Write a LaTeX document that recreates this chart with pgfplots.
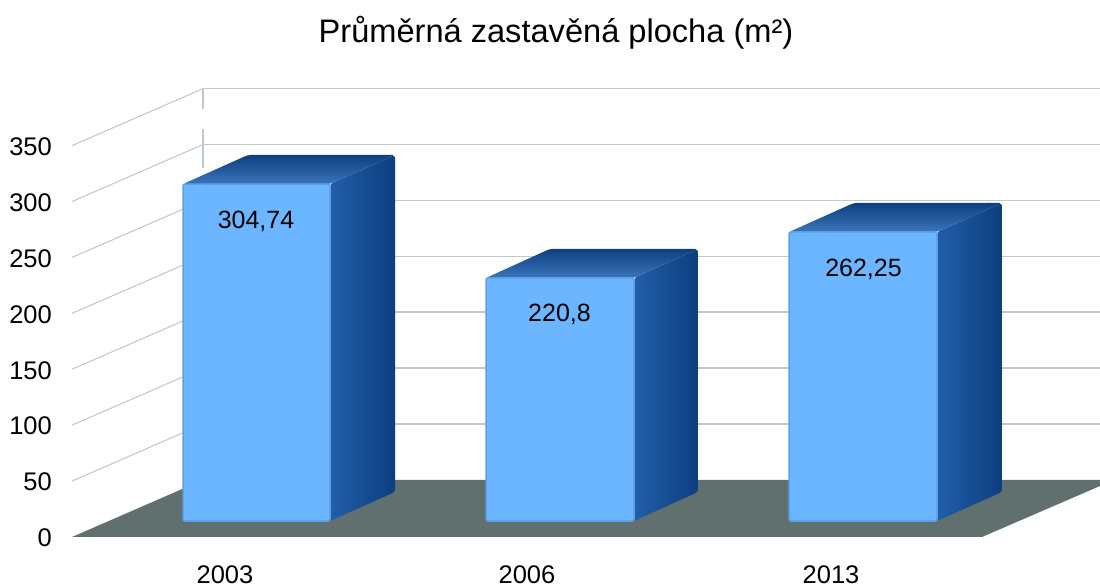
\documentclass[border=0pt]{standalone}
\usepackage{fontspec}
\setmainfont{Liberation Sans}
\usepackage{pgfplots}
\pgfplotsset{compat=1.18}

\definecolor{floorc}{HTML}{5F706F}
\definecolor{gridc}{HTML}{BCCACA}
\definecolor{diagc}{HTML}{BFC5C4}
\definecolor{frontc}{HTML}{6CB5FF}
\definecolor{frontedge}{HTML}{5C9FE6}
\definecolor{topback}{HTML}{0E3F80}
\definecolor{topfront}{HTML}{3A76BA}
\definecolor{sidel}{HTML}{225FA8}
\definecolor{sider}{HTML}{0C3E80}

\begin{document}
\begin{tikzpicture}[x=1pt,y=1pt]
\useasboundingbox (0,0) rectangle (1100,588);
\begin{axis}[
    at={(72pt,51pt)}, anchor=south west,
    scale only axis,
    width=1028pt, height=537pt,
    xmin=72, xmax=1100,
    ymin=0, ymax=480.3,
    clip=false,
    axis line style={draw=none},
    major tick length=0pt,
    xtick={225,527,831},
    xticklabels={2003,2006,2013},
    ytick={0,50,100,150,200,250,300,350},
    /pgf/number format/assume math mode=true,
    tick label style={font=\fontsize{25.5}{28}\selectfont, inner sep=0pt},
    yticklabel style={anchor=east, xshift=-20pt, yshift=-1pt},
    xticklabel style={anchor=north, yshift=-28.5pt},
]
% floor
\addplot[fill=floorc, draw=none] coordinates {(72,0) (982,0) (1100,45.6) (1100,51) (203,51)} -- cycle;

% diagonal side-wall lines
\addplot[diagc, line width=1pt, unbounded coords=jump] coordinates {
    (72,50) (203,101) (nan,nan)
    (72,100) (203,151) (nan,nan)
    (72,150) (203,201) (nan,nan)
    (72,200) (203,251) (nan,nan)
    (72,250) (203,301) (nan,nan)
    (72,300) (203,351) (nan,nan)
    (72,350) (203,401)
};
% back wall lines
\addplot[gridc, line width=1.6pt, unbounded coords=jump] coordinates {
    (203,101) (1100,101) (nan,nan)
    (203,151) (1100,151) (nan,nan)
    (203,201) (1100,201) (nan,nan)
    (203,251) (1100,251) (nan,nan)
    (203,301) (1100,301) (nan,nan)
    (203,351) (1100,351) (nan,nan)
    (203,401) (1100,401)
};
% corner post, broken as in the original
\addplot[gridc, line width=1.6pt, unbounded coords=jump] coordinates {
    (203,401) (203,383) (nan,nan)
    (203,365) (203,330)
};

% bar 2003
\addplot[left color=sidel, right color=sider, draw=none, rounded corners=3pt] coordinates {(330,14.3) (395,40.3) (395,341.7) (330,315.7)} -- cycle;
\addplot[top color=topback, bottom color=topfront, draw=none, rounded corners=3pt] coordinates {(183,315.7) (330,315.7) (395,341.7) (248,341.7)} -- cycle;
\addplot[fill=frontc, draw=frontedge, line width=1.5pt, rounded corners=2pt] coordinates {(183,14.3) (330,14.3) (330,315.7) (183,315.7)} -- cycle;

% bar 2006
\addplot[left color=sidel, right color=sider, draw=none, rounded corners=3pt] coordinates {(634,14.3) (698,40.3) (698,257.7) (634,231.7)} -- cycle;
\addplot[top color=topback, bottom color=topfront, draw=none, rounded corners=3pt] coordinates {(486,231.7) (634,231.7) (698,257.7) (550,257.7)} -- cycle;
\addplot[fill=frontc, draw=frontedge, line width=1.5pt, rounded corners=2pt] coordinates {(486,14.3) (634,14.3) (634,231.7) (486,231.7)} -- cycle;

% bar 2013
\addplot[left color=sidel, right color=sider, draw=none, rounded corners=3pt] coordinates {(937,14.3) (1002,40.3) (1002,298.8) (937,272.8)} -- cycle;
\addplot[top color=topback, bottom color=topfront, draw=none, rounded corners=3pt] coordinates {(789,272.8) (937,272.8) (1002,298.8) (854,298.8)} -- cycle;
\addplot[fill=frontc, draw=frontedge, line width=1.5pt, rounded corners=2pt] coordinates {(789,14.3) (937,14.3) (937,272.8) (789,272.8)} -- cycle;

% value labels
\node[font=\fontsize{25}{28}\selectfont] at (axis cs:256,282.6) {304,74};
\node[font=\fontsize{25}{28}\selectfont] at (axis cs:559.5,199.5) {220,8};
\node[font=\fontsize{25}{28}\selectfont] at (axis cs:863.5,239.7) {262,25};

% title
\node[font=\fontsize{32.6}{38}\selectfont] at (axis cs:556,451.2) {Průměrná zastavěná plocha (m²)};
\end{axis}
\end{tikzpicture}
\end{document}
